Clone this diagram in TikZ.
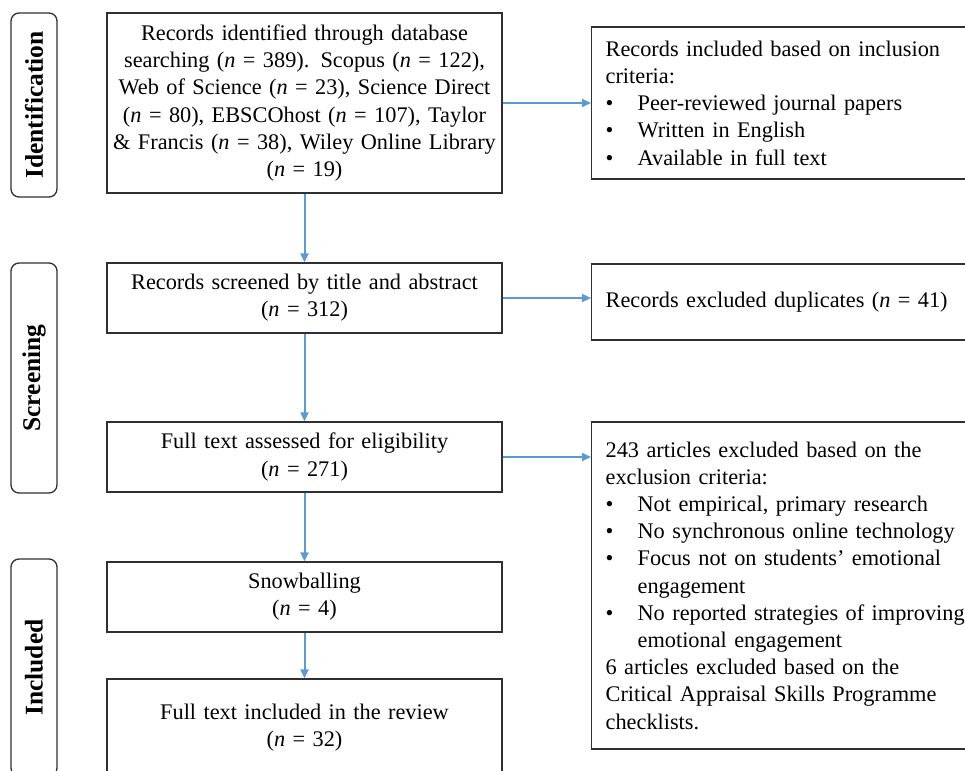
\documentclass[tikz,border=0pt]{standalone}
\usepackage{fontspec}
\setmainfont{Liberation Serif}
\usetikzlibrary{arrows.meta}
\definecolor{flowblue}{HTML}{5B9BD5}
\definecolor{boxline}{HTML}{303030}
\newcommand{\bul}{\makebox[32pt][l]{\textbullet}}
\newcommand{\ind}{\hspace*{32pt}}
\tikzset{
  txt/.style={font=\fontsize{22.3}{27.2}\selectfont},
  mainbox/.style={txt, draw=boxline, line width=1.3pt, minimum width=395pt, text width=390pt, align=center, inner sep=0pt},
  sidebox/.style={txt, draw=boxline, line width=1.3pt, minimum width=400pt, text width=372pt, align=left, inner xsep=14pt, inner ysep=0pt, anchor=west},
  phase/.style={draw=boxline, line width=1.3pt, rounded corners=8pt, rotate=90, minimum height=46pt, inner sep=0pt, font=\fontsize{25.5}{28}\selectfont\bfseries},
  flow/.style={draw=flowblue, line width=2pt, -{Triangle[length=9pt,width=8pt]}}
}
\begin{document}
\begin{tikzpicture}[x=1pt,y=-1pt]
\clip (0,0) rectangle (965,770);
\fill[white] (0,0) rectangle (965,770);
% phase labels
\node[phase, minimum width=184pt] (pid) at (34,105) {Identification};
\node[phase, minimum width=230pt] (psc) at (34,378) {Screening};
\node[phase, minimum width=217pt] (pin) at (34,667.5) {Included};
% main boxes
\node[mainbox, minimum height=180pt] (b1) at (304.5,103) {Records identified through database\\
searching (\textit{n} = 389). Scopus (\textit{n} = 122),\\
Web of Science (\textit{n} = 23), Science Direct\\
(\textit{n} = 80), EBSCOhost (\textit{n} = 107), Taylor\\
\& Francis (\textit{n} = 38), Wiley Online Library\\
(\textit{n} = 19)};
\node[mainbox, minimum height=70pt] (b2) at (304.5,298) {Records screened by title and abstract\\(\textit{n} = 312)};
\node[mainbox, minimum height=70pt] (b3) at (304.5,457) {Full text assessed for eligibility\\(\textit{n} = 271)};
\node[mainbox, minimum height=70pt] (b4) at (304.5,597) {Snowballing\\(\textit{n} = 4)};
\node[mainbox, minimum height=97pt] (b5) at (304.5,727.5) {Full text included in the review\\(\textit{n} = 32)};
% side boxes
\node[sidebox, minimum height=152pt] (r1) at (591,103) {Records included based on inclusion\\
criteria:\\
\bul Peer-reviewed journal papers\\
\bul Written in English\\
\bul Available in full text};
\node[sidebox, minimum height=76pt] (r2) at (591,302) {Records excluded duplicates (\textit{n} = 41)};
\node[sidebox, minimum height=327pt] (r3) at (591,585.5) {243 articles excluded based on the\\
exclusion criteria:\\
\bul Not empirical, primary research\\
\bul No synchronous online technology\\
\bul Focus not on students’ emotional\\
\ind engagement\\
\bul No reported strategies of improving\\
\ind emotional engagement\\
6 articles excluded based on the\\
Critical Appraisal Skills Programme\\
checklists.};
% connectors
\draw[flow] (b1) -- (b2);
\draw[flow] (b2) -- (b3);
\draw[flow] (b3) -- (b4);
\draw[flow] (b4) -- (b5);
\draw[flow] (b1.east) -- (b1.east -| r1.west);
\draw[flow] (b2.east) -- (b2.east -| r2.west);
\draw[flow] (b3.east) -- (b3.east -| r3.west);
\end{tikzpicture}
\end{document}
